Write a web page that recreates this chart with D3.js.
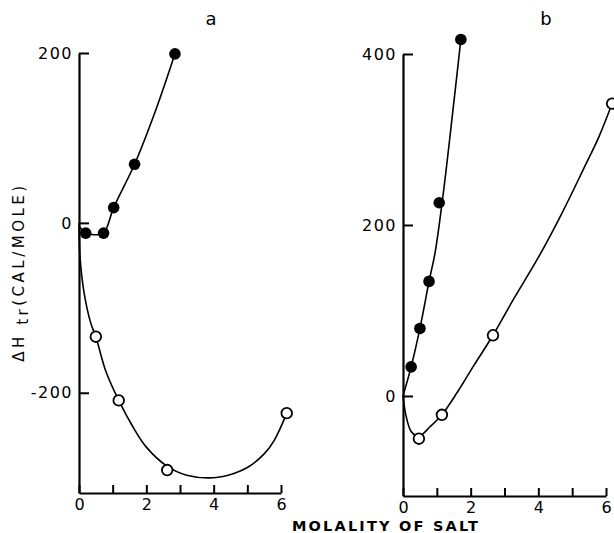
<!DOCTYPE html>
<html><head><meta charset="utf-8">
<script src="https://cdn.jsdelivr.net/npm/d3@7"></script>
<style>body{margin:0;background:#fff;overflow:hidden}svg{display:block}text{font-family:"DejaVu Sans",sans-serif;fill:#000}</style>
</head><body>
<svg id="c" width="614" height="533"></svg>
<script>
// Panel a data (molality, ΔH_tr cal/mole)
const aFilled = [[0.2,-12],[0.73,-12],[1.03,18],[1.65,69],[2.85,199]];
const aOpen = [[0.5,-134],[1.18,-209],[2.62,-291],[6.17,-224]];
const aFilledCurve = [[0,-4],[0.2,-12],[0.45,-14],[0.73,-12],[1.03,18],[1.65,69],[2.3,135],[2.85,199]];
const aOpenCurve = [[0,0],[0.03,-40],[0.15,-82],[0.35,-118],[0.5,-134],[0.8,-175],[1.18,-209],[1.6,-240],[2.0,-264],[2.6,-286],[3.2,-297],[4.0,-300],[4.6,-295],[5.0,-288],[5.5,-272],[5.8,-256],[6.17,-224]];
// Panel b data
const bFilled = [[0.24,34],[0.5,79],[0.77,134],[1.07,226],[1.71,417]];
const bOpen = [[0.47,-50],[1.15,-22],[2.66,71],[6.18,342]];
const bFilledCurve = [[0,0],[0.24,34],[0.5,79],[0.77,134],[0.95,168],[1.2,240],[1.45,325],[1.71,417]];
const bOpenCurve = [[0,0],[0.1,-25],[0.25,-42],[0.47,-47],[0.8,-36],[1.15,-22],[1.6,4],[2.1,36],[2.66,71],[3.25,112],[4.0,162],[4.7,214],[5.33,265],[5.8,304],[6.18,342]];
// Ticks
const xTicks = [0,1,2,3,4,5,6];
const xTickLabels = {0:"0",2:"2",4:"4",6:"6"};
const aYTicks = [-200,0,200];
const bYTicks = [0,200,400];

const svg = d3.select("#c");

function panel(opt){
  const x = d3.scaleLinear().domain([0,6]).range(opt.xr);
  const y = d3.scaleLinear().domain(opt.yd).range(opt.yr);
  const g = svg.append("g");
  const xa = g.append("g").attr("transform",`translate(0,${opt.yr[0]})`)
    .call(d3.axisBottom(x).tickValues(xTicks).tickSize(-8).tickSizeOuter(0).tickPadding(6)
      .tickFormat(d=>xTickLabels[d]||""));
  const ya = g.append("g").attr("transform",`translate(${opt.xr[0]},0)`)
    .call(d3.axisLeft(y).tickValues(opt.yt).tickSize(-10).tickSizeOuter(0).tickPadding(6)
      .tickFormat(d=>d<0?"-"+Math.abs(d):String(d)));
  [xa,ya].forEach(a=>{
    a.select(".domain").attr("stroke","#000").attr("stroke-width",2.2);
    a.selectAll(".tick line").attr("stroke","#000").attr("stroke-width",2);
    a.selectAll(".tick text").attr("font-size",16).style("font-family","DejaVu Sans").attr("fill","#000");
  });
  ya.selectAll(".tick text").attr("letter-spacing",1.5);
  const line = d3.line().x(d=>x(d[0])).y(d=>y(d[1])).curve(d3.curveCatmullRom.alpha(0.5));
  [opt.fc, opt.oc].forEach(c=>{
    g.append("path").attr("d",line(c)).attr("fill","none").attr("stroke","#000").attr("stroke-width",1.6);
  });
  g.selectAll(".f").data(opt.f).join("circle").attr("cx",d=>x(d[0])).attr("cy",d=>y(d[1])).attr("r",5.8).attr("fill","#000");
  g.selectAll(".o").data(opt.o).join("circle").attr("cx",d=>x(d[0])).attr("cy",d=>y(d[1])).attr("r",5.3)
    .attr("fill","#fff").attr("stroke","#000").attr("stroke-width",1.8);
  g.append("text").attr("x",opt.lx).attr("y",25).attr("text-anchor","middle").attr("font-size",18).text(opt.label);
}

panel({xr:[79,281], yr:[493,53], yd:[-318,200], yt:aYTicks, f:aFilled, o:aOpen, fc:aFilledCurve, oc:aOpenCurve, label:"a", lx:211});
panel({xr:[403,606], yr:[496,54], yd:[-117,400], yt:bYTicks, f:bFilled, o:bOpen, fc:bFilledCurve, oc:bOpenCurve, label:"b", lx:546});

// Axis titles
const yl = svg.append("text").attr("transform","translate(24,272) rotate(-90)").attr("text-anchor","middle")
  .attr("font-size",15).attr("letter-spacing",3.5);
yl.append("tspan").text("ΔH ");
yl.append("tspan").attr("dy",4).text("tr");
yl.append("tspan").attr("dy",-4).text("(CAL/MOLE)");
svg.append("text").attr("x",386).attr("y",531).attr("text-anchor","middle").attr("font-size",14.5)
  .attr("font-weight","bold").attr("letter-spacing",2.2).text("MOLALITY OF SALT");
</script>
</body></html>
